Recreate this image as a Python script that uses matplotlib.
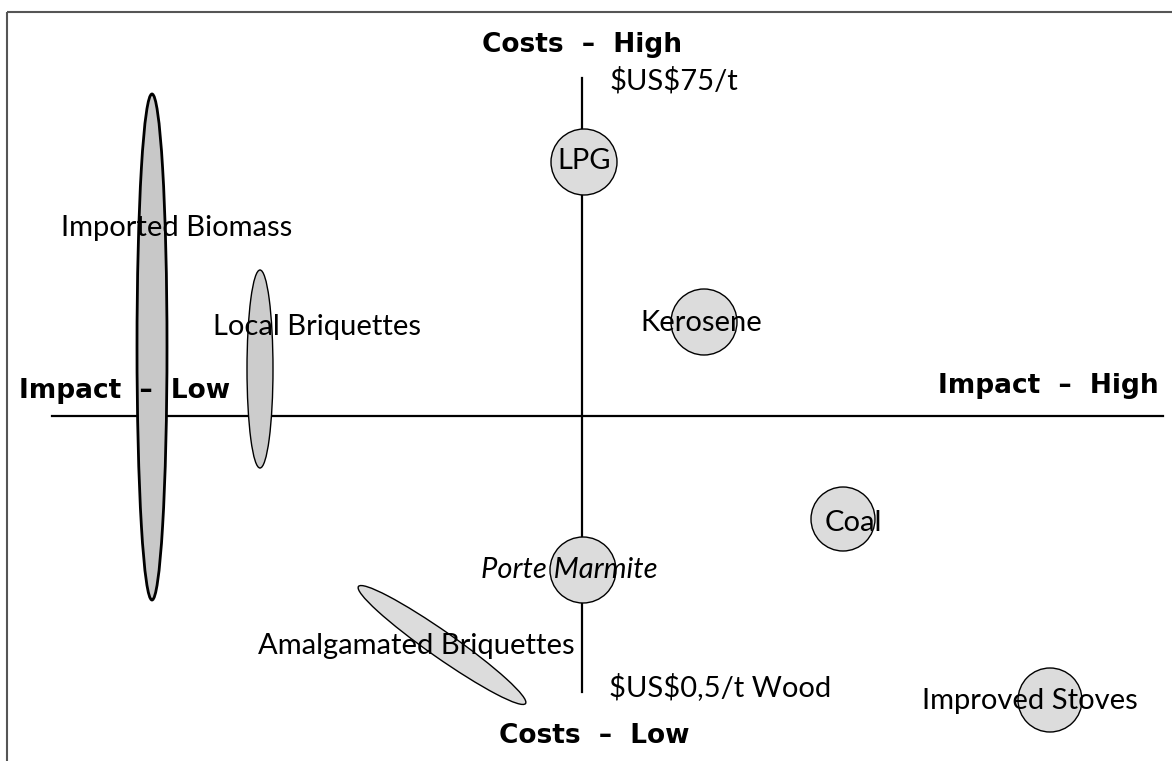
import matplotlib
matplotlib.use("Agg")
import matplotlib.pyplot as plt
from matplotlib.patches import Ellipse, Rectangle

# ---- data (pixel-space layout of the original diagram) ----
options = ["Imported Biomass", "Local Briquettes", "Amalgamated Briquettes",
           "LPG", "Kerosene", "Coal", "Porte Marmite", "Improved Stoves"]
center_x = [152, 260, 442, 584, 704, 843, 583, 1050]
center_y = [347, 369, 645, 162, 322, 519, 570, 700]
widths = [30, 26, 204, 66, 66, 64, 66, 64]
heights = [506, 198, 26, 66, 66, 64, 66, 64]
angles = [0, 0, 35, 0, 0, 0, 0, 0]
fills = ["#c8c8c8", "#cccccc", "#dcdcdc", "#dcdcdc", "#dcdcdc", "#dcdcdc", "#dcdcdc", "#dcdcdc"]
edge_w = [2.0, 1.0, 1.0, 1.0, 1.0, 1.0, 1.0, 1.0]

label_text = ["Imported Biomass", "Local Briquettes", "Amalgamated Briquettes",
              "LPG", "Kerosene", "Coal", "Porte Marmite", "Improved Stoves"]
label_x = [177, 317, 416, 584, 701, 853, 569, 1030]
label_y = [228, 327, 646, 161, 323, 523, 570, 701]
label_style = ["normal", "normal", "normal", "normal", "normal", "normal", "italic", "normal"]

axis_labels = ["Costs  –  High", "Costs  –  Low", "Impact  –  Low", "Impact  –  High"]
axis_label_x = [582, 594, 19, 1159]
axis_label_y = [45, 736, 391, 386]
axis_label_ha = ["center", "center", "left", "right"]

price_labels = ["\\$US\\$75/t", "\\$US\\$0,5/t Wood"]
price_x = [610, 609]
price_y = [81, 687]

axis_h_x = [52, 1163]
axis_h_y = [416, 416]
axis_v_x = [582, 582]
axis_v_y = [78, 692]

W, H = 1172, 761
fig = plt.figure(figsize=(W / 100, H / 100), dpi=100)
ax = fig.add_axes([0, 0, 1, 1])
ax.set_xlim(0, W)
ax.set_ylim(H, 0)
ax.axis("off")

FONT = "Lato"
RS = 21
BS = 19

# frame
ax.add_patch(Rectangle((7, 12), 1300, 900, fill=False, edgecolor="#555555", lw=1.5))

# axes lines
ax.plot(axis_h_x, axis_h_y, color="black", lw=1.6, zorder=1)
ax.plot(axis_v_x, axis_v_y, color="black", lw=1.6, zorder=1)

for cx, cy, w, h, a, fc, ew in zip(center_x, center_y, widths, heights, angles, fills, edge_w):
    ax.add_patch(Ellipse((cx, cy), w, h, angle=a, facecolor=fc, edgecolor="black", lw=ew, zorder=2))

for t, x, y, st in zip(label_text, label_x, label_y, label_style):
    ax.text(x, y, t, ha="center", va="center", fontsize=RS, style=st, family=FONT, zorder=3)

for t, x, y, ha in zip(axis_labels, axis_label_x, axis_label_y, axis_label_ha):
    ax.text(x, y, t, ha=ha, va="center", fontsize=BS, fontweight="bold",
            family="DejaVu Sans", zorder=3)

for t, x, y in zip(price_labels, price_x, price_y):
    ax.text(x, y, t, ha="left", va="center", fontsize=RS, family=FONT, zorder=3)

fig.savefig("out.png", dpi=100)
